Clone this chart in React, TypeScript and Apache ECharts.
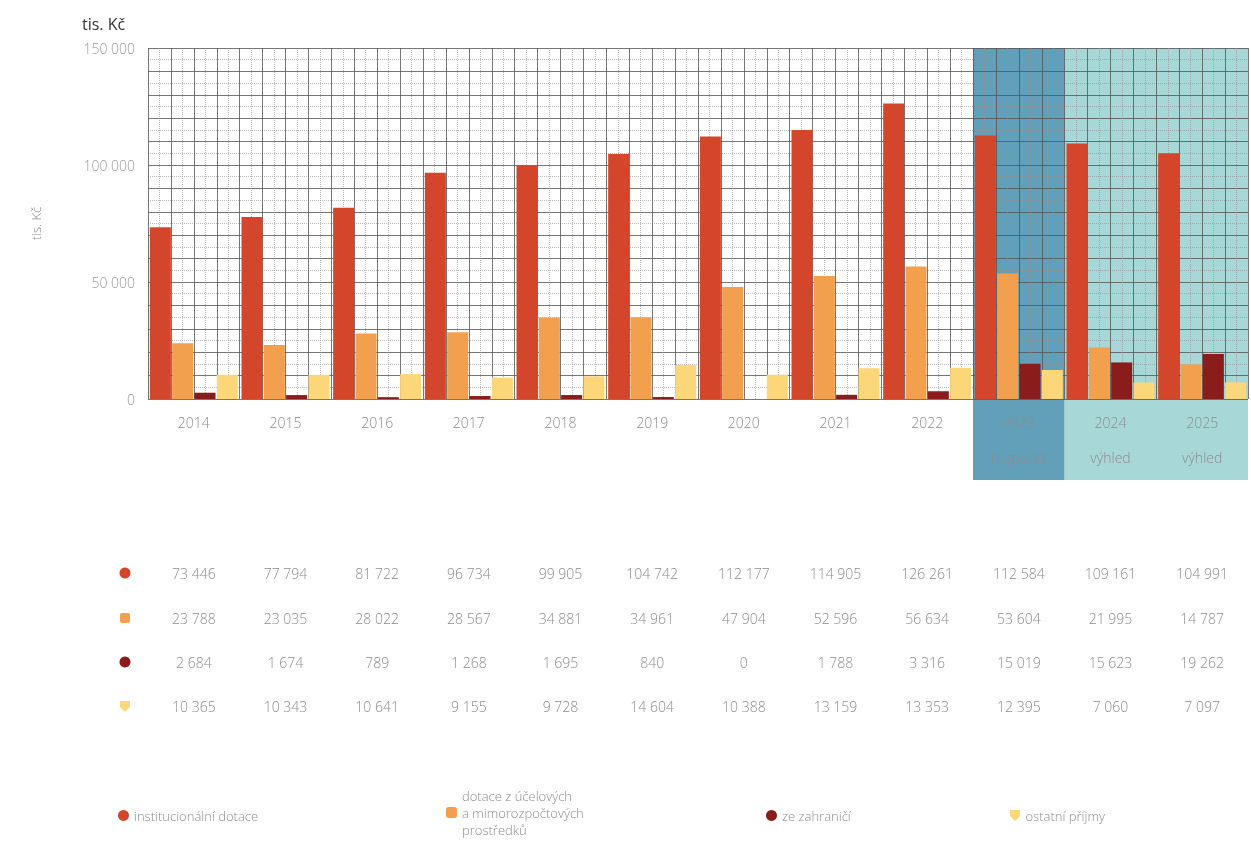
import React, { useEffect, useRef } from 'react';
import * as echarts from 'echarts';

const categories = ['2014', '2015', '2016', '2017', '2018', '2019', '2020', '2021', '2022', '2023\nrozpočet', '2024\nvýhled', '2025\nvýhled'];
const seriesNames = ['institucionální dotace', 'dotace z účelových\na mimorozpočtových\nprostředků', 'ze zahraničí', 'ostatní příjmy'];
const institucionalni = [73446, 77794, 81722, 96734, 99905, 104742, 112177, 114905, 126261, 112584, 109161, 104991];
const ucelove = [23788, 23035, 28022, 28567, 34881, 34961, 47904, 52596, 56634, 53604, 21995, 14787];
const zahranici = [2684, 1674, 789, 1268, 1695, 840, 0, 1788, 3316, 15019, 15623, 19262];
const ostatni = [10365, 10343, 10641, 9155, 9728, 14604, 10388, 13159, 13353, 12395, 7060, 7097];
const colors = ['#d4462b', '#f2a04e', '#8a1c1c', '#fbd77a'];
const shadeColors = ['#62a0ba', '#a8d7d7'];
const yMax = 150000;
const yInterval = 50000;

const allSeries = [institucionalni, ucelove, zahranici, ostatni];

const fmt = (v: number) => String(v).replace(/\B(?=(\d{3})+(?!\d))/g, ' ');
const FONT = '"Open Sans", Lato, sans-serif';
const TXT = '#8c8c8c';
const pinPath = 'path://M0,0 L10,0 L10,6 L5,11 L0,6 Z';
const icons = ['circle', 'roundRect', 'circle', pinPath];
const rowY = [573, 618, 662, 706];
const legendLeft = [118, 446, 766, 1010];

export default function App() {
  const ref = useRef<HTMLDivElement>(null);
  useEffect(() => {
    if (!ref.current) return;
    const chart = echarts.init(ref.current, undefined, { renderer: 'svg' });
    const option: any = {
      animation: false,
      title: { text: 'tis. Kč', left: 77, top: 11, textStyle: { fontFamily: FONT, fontSize: 16, fontWeight: 'normal', color: '#333' } },
      grid: { left: 148, right: 3, top: 48, bottom: 469 },
      legend: seriesNames.map((n, i) => ({
        data: [{ name: n, icon: icons[i] }],
        left: legendLeft[i],
        top: i === 1 ? 787 : 807,
        padding: 0,
        itemWidth: 11,
        itemHeight: 11,
        itemGap: 6,
        selectedMode: false,
        textStyle: { fontFamily: FONT, fontSize: 13, fontWeight: 300, color: TXT, lineHeight: 17 },
      })),
      xAxis: [
        {
          type: 'category', data: categories,
          axisLine: { show: false }, axisTick: { show: false }, splitLine: { show: false },
          axisLabel: { margin: 6, lineHeight: 35, fontFamily: FONT, fontSize: 14, fontWeight: 300, color: TXT },
        },
        {
          type: 'value', min: 0, max: 48, interval: 1, position: 'bottom',
          axisLine: { show: false }, axisTick: { show: false }, axisLabel: { show: false },
          splitLine: { show: true, lineStyle: { color: '#555555', width: 1, opacity: 0.8 } },
          minorTick: { show: false, splitNumber: 2 },
          minorSplitLine: { show: true, lineStyle: { color: '#8f8f8f', width: 1, type: 'dotted', opacity: 0.6 } },
        },
      ],
      yAxis: [
        {
          type: 'value', min: 0, max: yMax, interval: yInterval,
          name: 'tis. Kč', nameLocation: 'middle', nameGap: 106,
          nameTextStyle: { fontFamily: FONT, fontSize: 13, fontWeight: 300, color: TXT },
          axisLine: { show: false }, axisTick: { show: false }, splitLine: { show: false },
          axisLabel: { margin: 13, formatter: (v: number) => fmt(v), fontFamily: FONT, fontSize: 14, fontWeight: 300, color: '#9a9a9a' },
        },
        {
          type: 'value', min: 0, max: yMax, interval: 10000,
          axisLine: { show: false }, axisTick: { show: false }, axisLabel: { show: false },
          splitLine: { show: true, lineStyle: { color: '#555555', width: 1, opacity: 0.8 } },
          minorTick: { show: false, splitNumber: 2 },
          minorSplitLine: { show: true, lineStyle: { color: '#8f8f8f', width: 1, type: 'dotted', opacity: 0.6 } },
        },
      ],
      series: seriesNames.map((n, i) => ({
        name: n, type: 'bar', data: allSeries[i], xAxisIndex: 0, yAxisIndex: 0,
        barGap: '6%', barCategoryGap: '4%',
        itemStyle: { color: colors[i] },
        z: 5,
      })),
    };
    chart.setOption(option);

    const cx = (i: number) => chart.convertToPixel({ xAxisIndex: 0 }, i) as number;
    const band = cx(1) - cx(0);
    const yTop = chart.convertToPixel({ yAxisIndex: 0 }, yMax) as number;
    const shadeBottom = 480;
    const graphics: any[] = [];
    graphics.push({
      type: 'rect', z: -1,
      shape: { x: cx(9) - band / 2, y: yTop, width: band, height: shadeBottom - yTop },
      style: { fill: shadeColors[0] },
    });
    graphics.push({
      type: 'rect', z: -1,
      shape: { x: cx(10) - band / 2, y: yTop, width: band * 2, height: shadeBottom - yTop },
      style: { fill: shadeColors[1] },
    });
    allSeries.forEach((arr, r) => {
      const y = rowY[r];
      if (r === 1) {
        graphics.push({ type: 'rect', shape: { x: 120, y: y - 5, width: 10, height: 10, r: 2 }, style: { fill: colors[r] } });
      } else if (r === 3) {
        graphics.push({ type: 'polygon', shape: { points: [[120, y - 5], [130, y - 5], [130, y + 1], [125, y + 6], [120, y + 1]] }, style: { fill: colors[r] } });
      } else {
        graphics.push({ type: 'circle', shape: { cx: 125, cy: y, r: 5.5 }, style: { fill: colors[r] } });
      }
      arr.forEach((v, i) => {
        graphics.push({
          type: 'text', x: cx(i), y,
          style: { text: fmt(v), align: 'center', verticalAlign: 'middle', fill: TXT, font: `300 14px ${FONT}` },
        });
      });
    });
    chart.setOption({ graphic: graphics });

    return () => chart.dispose();
  }, []);
  return <div ref={ref} style={{ position: 'fixed', left: 0, top: 0, width: 1251, height: 868 }} />;
}
